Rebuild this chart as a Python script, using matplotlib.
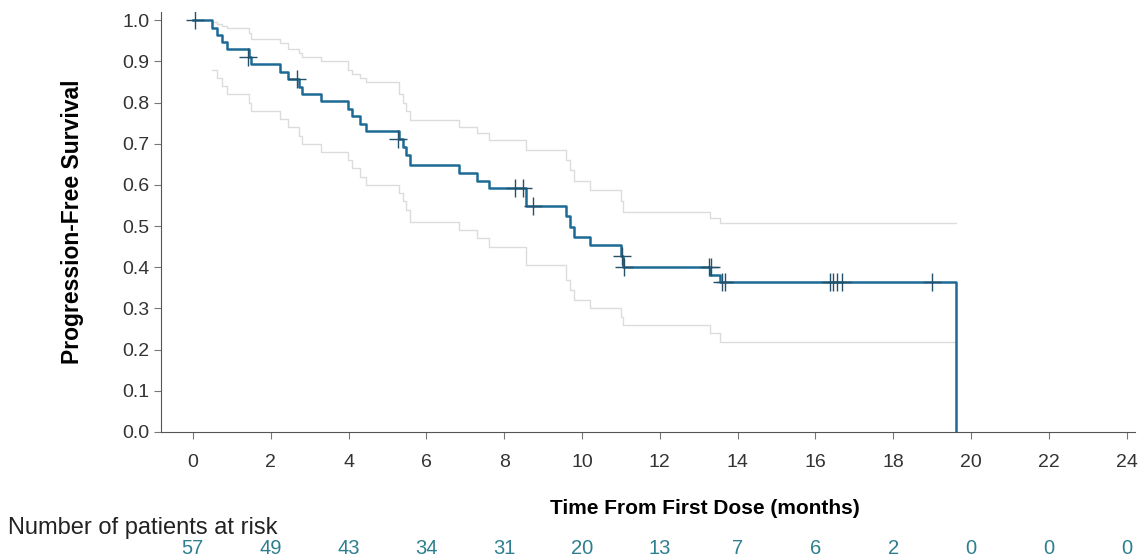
import numpy as np
import matplotlib
matplotlib.use("Agg")
import matplotlib.pyplot as plt

plt.rcParams['font.family'] = ['Liberation Sans', 'DejaVu Sans']

# ---- KM estimate (step after each time) ----
km_t = [0.0, 0.5, 0.62, 0.75, 0.87, 1.45, 1.5, 2.25, 2.45, 2.72, 2.8, 3.3, 3.98,
        4.1, 4.3, 4.45, 5.3, 5.4, 5.48, 5.58, 6.85, 7.3, 7.6, 8.55, 9.6, 9.7,
        9.8, 10.2, 11.0, 11.05, 13.3, 13.55, 19.6]
km_s = [1.0, 0.982, 0.965, 0.947, 0.929, 0.911, 0.893, 0.875, 0.857, 0.839, 0.821,
        0.803, 0.785, 0.767, 0.748, 0.730, 0.711, 0.692, 0.673, 0.648, 0.629, 0.610,
        0.592, 0.549, 0.524, 0.498, 0.473, 0.454, 0.427, 0.400, 0.381, 0.364, 0.0]

# ---- 95% CI bands ----
ci_t = km_t[:-1] + [19.6]
ci_upper = [1.0, 0.995, 0.99, 0.985, 0.98, 0.968, 0.955, 0.944, 0.93, 0.92, 0.91,
            0.90, 0.88, 0.87, 0.86, 0.85, 0.82, 0.80, 0.78, 0.757, 0.74, 0.726,
            0.71, 0.684, 0.66, 0.636, 0.61, 0.587, 0.56, 0.534, 0.52, 0.507, 0.507]
ci_lower = [1.0, 0.88, 0.86, 0.84, 0.82, 0.80, 0.78, 0.76, 0.74, 0.72, 0.70,
            0.68, 0.66, 0.64, 0.62, 0.60, 0.58, 0.56, 0.54, 0.51, 0.49, 0.47,
            0.45, 0.405, 0.37, 0.345, 0.32, 0.30, 0.28, 0.26, 0.24, 0.218, 0.218]

# ---- censored observations ----
cens_t = [0.05, 1.41, 2.67, 5.27, 8.28, 8.48, 8.74, 11.03, 11.08, 13.27, 13.32,
          13.6, 13.68, 16.38, 16.46, 16.56, 16.68, 19.0]
cens_s = [1.0, 0.911, 0.857, 0.711, 0.592, 0.592, 0.549, 0.427, 0.400, 0.400, 0.400,
          0.364, 0.364, 0.364, 0.364, 0.364, 0.364, 0.364]

# ---- number at risk ----
risk_times = [0, 2, 4, 6, 8, 10, 12, 14, 16, 18, 20, 22, 24]
risk_counts = [57, 49, 43, 34, 31, 20, 13, 7, 6, 2, 0, 0, 0]

fig = plt.figure(figsize=(11.44, 5.6), dpi=100)
ax = fig.add_axes([0.1407, 0.2286, 0.851, 0.75])

line_col = '#1d6b95'
ci_col = '#dcdcdc'

ax.step(ci_t[1:], ci_upper[1:], where='post', color=ci_col, lw=1.0)
ax.step(ci_t[1:], ci_lower[1:], where='post', color=ci_col, lw=1.0)
ax.step(km_t, km_s, where='post', color=line_col, lw=1.8)
ax.plot(cens_t, cens_s, '+', color='#24506a', ms=13, mew=1.0)

ax.set_xlim(-0.82, 24.2)
ax.set_ylim(0, 1.02)
ax.set_xticks(range(0, 25, 2))
ax.set_yticks(np.arange(0, 1.01, 0.1))
ax.set_yticklabels([f"{v:.1f}" for v in np.arange(0, 1.01, 0.1)])
for s in ['top', 'right']:
    ax.spines[s].set_visible(False)
for s in ['left', 'bottom']:
    ax.spines[s].set_color('#555555')
ax.tick_params(colors='#333333', labelsize=14, length=5, color='#777777')
ax.tick_params(axis='x', pad=11)

ax.set_ylabel("Progression-Free Survival", fontsize=16.5, fontweight='bold')
ax.yaxis.set_label_coords(-0.079, 0.5)
ax.set_xlabel("Time From First Dose (months)", fontsize=15, fontweight='bold')
ax.xaxis.set_label_coords(0.5585, -0.16)

fig.text(8 / 1144, 1 - 528 / 560, "Number of patients at risk", fontsize=17,
         va='center', ha='left', color='#222222')
for t, n in zip(risk_times, risk_counts):
    xf = ax.transData.transform((t, 0))[0] / fig.bbox.width
    fig.text(xf, 1 - 549 / 560, str(n), fontsize=14.5, ha='center', va='center',
             color='#2d7f8f')

fig.savefig("out.png", dpi=100)
